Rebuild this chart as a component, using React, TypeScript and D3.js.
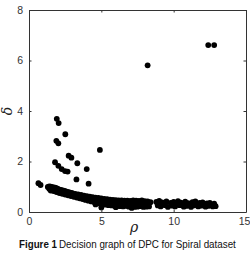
import React, { useEffect, useRef } from 'react'
import * as d3 from 'd3'

// decision graph values: [rho, delta]
const centres: [number, number][] = [
  [8.2, 5.81], [12.39, 6.61], [12.8, 6.61],
]

const scattered: [number, number][] = [
  [1.92, 3.69], [2.05, 3.52], [2.51, 3.08], [1.89, 2.82], [2.03, 2.72],
  [2.74, 2.23], [2.93, 2.15], [3.34, 1.93], [1.8, 1.97], [2.03, 1.83],
  [2.26, 1.7], [2.49, 1.62], [2.67, 1.6], [3.99, 1.7], [3.28, 1.29],
  [4.12, 1.12], [4.9, 2.46], [0.65, 1.14], [0.8, 1.07],
]

const bandTop: [number, number][] = [
  [1.3, 0.99], [1.4, 1.01], [1.5, 1.0], [1.6, 0.98], [1.7, 0.97], [1.8, 0.96],
  [1.9, 0.94], [2.0, 0.91], [2.1, 0.89], [2.2, 0.88], [2.3, 0.86], [2.4, 0.85],
  [2.5, 0.83], [2.6, 0.81], [2.7, 0.79], [2.8, 0.78], [2.9, 0.76], [3.0, 0.75],
  [3.2, 0.72], [3.4, 0.7], [3.6, 0.68], [3.8, 0.65], [4.0, 0.63], [4.2, 0.61],
  [4.4, 0.59], [4.6, 0.57], [4.8, 0.56], [5.0, 0.54], [5.2, 0.52], [5.4, 0.51],
  [5.6, 0.49], [5.8, 0.48], [6.0, 0.47], [6.2, 0.46], [6.4, 0.46], [6.6, 0.45],
  [6.8, 0.45], [7.0, 0.44], [7.2, 0.46], [7.4, 0.45], [7.6, 0.44], [7.8, 0.46],
  [8.0, 0.43], [8.2, 0.42], [8.4, 0.39],
]

const bandMid: [number, number][] = [
  [1.4, 0.92], [1.6, 0.9], [1.8, 0.87], [2.0, 0.83], [2.2, 0.8], [2.4, 0.77],
  [2.6, 0.74], [2.8, 0.71], [3.0, 0.68], [3.2, 0.66], [3.4, 0.63], [3.6, 0.6],
  [3.8, 0.57], [4.0, 0.55], [4.2, 0.52], [4.4, 0.5], [4.6, 0.48], [4.8, 0.46],
  [5.0, 0.44], [5.2, 0.42], [5.4, 0.4], [5.6, 0.39], [5.8, 0.37], [6.0, 0.36],
  [6.2, 0.35], [6.4, 0.34], [6.6, 0.35], [6.8, 0.33], [7.0, 0.34], [7.2, 0.32],
  [7.4, 0.33], [7.6, 0.32], [7.8, 0.31], [8.0, 0.32], [8.2, 0.3],
]

const bandLow: [number, number][] = [
  [1.5, 0.85], [1.7, 0.83], [1.9, 0.79], [2.1, 0.75], [2.3, 0.72], [2.5, 0.69],
  [2.7, 0.66], [2.9, 0.63], [3.1, 0.6], [3.3, 0.57], [3.5, 0.54], [3.7, 0.51],
  [3.9, 0.48], [4.1, 0.45], [4.3, 0.42], [4.5, 0.4], [4.7, 0.37], [4.9, 0.34],
  [5.1, 0.32], [5.3, 0.29], [5.5, 0.27], [5.7, 0.26], [5.9, 0.25], [6.1, 0.24],
  [6.3, 0.23], [6.5, 0.22], [6.7, 0.24], [6.9, 0.21], [7.1, 0.22], [7.3, 0.2],
  [7.5, 0.21], [7.7, 0.23], [7.9, 0.2], [8.1, 0.21], [8.3, 0.22],
  [4.6, 0.3], [5.0, 0.18], [6.0, 0.19], [7.1, 0.16],
]

const tail: [number, number][] = [
  [8.8, 0.4], [9.0, 0.44], [9.2, 0.38], [9.5, 0.42], [9.8, 0.36], [10.0, 0.4],
  [10.3, 0.43], [10.5, 0.37], [10.8, 0.41], [11.0, 0.35], [11.3, 0.39], [11.5, 0.42],
  [11.8, 0.36], [12.0, 0.38], [12.3, 0.34], [12.5, 0.36], [12.8, 0.33],
  [8.9, 0.26], [9.1, 0.22], [9.4, 0.27], [9.6, 0.2], [9.9, 0.25], [10.1, 0.22],
  [10.4, 0.27], [10.7, 0.21], [10.9, 0.24], [11.2, 0.2], [11.4, 0.26], [11.7, 0.22],
  [11.9, 0.25], [12.2, 0.21], [12.4, 0.24], [12.7, 0.22], [12.9, 0.23],
  [9.3, 0.32], [10.2, 0.31], [10.6, 0.3], [11.1, 0.3], [11.6, 0.31], [12.1, 0.3],
]

const xTicks = [0, 5, 10, 15]
const yTicks = [0, 2, 4, 6, 8]

const App = () => {
  const ref = useRef<SVGSVGElement>(null)

  useEffect(() => {
    const svg = d3.select(ref.current)
    svg.selectAll('*').remove()

    const left = 29, right = 246, top = 10, bottom = 212
    const x = d3.scaleLinear().domain([0, 15]).range([left, right])
    const y = d3.scaleLinear().domain([0, 8]).range([bottom, top])

    svg.append('rect').attr('width', 250).attr('height', 253).attr('fill', '#fff')

    // points
    const all = [...bandLow, ...bandMid, ...bandTop, ...tail, ...scattered, ...centres]
    svg.append('g')
      .selectAll('circle')
      .data(all)
      .enter()
      .append('circle')
      .attr('cx', (d) => x(d[0]))
      .attr('cy', (d) => y(d[1]))
      .attr('r', 2.9)
      .attr('fill', '#000')

    // box with inward ticks on all four sides
    const axisColor = '#333'
    const tick = 2.5
    const ax = svg.append('g')

    const xAxis = ax.append('g').attr('transform', `translate(0,${bottom})`)
      .call(d3.axisBottom(x).tickValues(xTicks).tickSizeInner(-tick).tickSizeOuter(0).tickPadding(6))
    ax.append('g').attr('transform', `translate(0,${top})`)
      .call(d3.axisTop(x).tickValues(xTicks).tickSizeInner(-tick).tickSizeOuter(0).tickFormat(() => ''))
    ax.append('g').attr('transform', `translate(${left},0)`)
      .call(d3.axisLeft(y).tickValues(yTicks).tickSizeInner(-tick).tickSizeOuter(0).tickPadding(6))
    ax.append('g').attr('transform', `translate(${right},0)`)
      .call(d3.axisRight(y).tickValues(yTicks).tickSizeInner(-tick).tickSizeOuter(0).tickFormat(() => ''))

    ax.selectAll('.domain').attr('stroke', axisColor)
    ax.selectAll('.tick line').attr('stroke', axisColor)
    ax.selectAll('.tick text').attr('fill', '#333').attr('font-size', 10.5)
      .attr('font-family', 'Liberation Sans, Arial, sans-serif')
    // last label sits against the window edge, nudge it in a little
    xAxis.selectAll<SVGTextElement, number>('.tick text')
      .attr('dx', (d) => (d === 15 ? -2 : 0))

    // axis titles
    svg.append('text')
      .attr('x', 134).attr('y', 232)
      .attr('text-anchor', 'middle')
      .attr('font-family', 'DejaVu Serif, serif')
      .attr('font-style', 'italic')
      .attr('font-size', 14)
      .attr('fill', '#222')
      .text('ρ')
    svg.append('text')
      .attr('transform', `translate(12,${(top + bottom) / 2}) rotate(-90)`)
      .attr('text-anchor', 'middle')
      .attr('font-family', 'DejaVu Serif, serif')
      .attr('font-style', 'italic')
      .attr('font-size', 14)
      .attr('fill', '#222')
      .text('δ')

    // caption, squeezed horizontally to the narrow face of the original
    const capFont = 'Liberation Sans Narrow, Arial Narrow, Liberation Sans, sans-serif'
    const caption = (str: string, x0: number, width: number, bold: boolean) => {
      const t = svg.append('text')
        .attr('font-family', capFont)
        .attr('font-size', 11)
        .attr('font-weight', bold ? 'bold' : 'normal')
        .attr('fill', '#111')
        .text(str)
      const w = (t.node() as SVGTextElement).getComputedTextLength() || width
      t.attr('transform', `translate(${x0},248) scale(${width / w},1)`)
    }
    caption('Figure 1', 19, 38, true)
    caption('Decision graph of DPC for Spiral dataset', 59, 177, false)
  }, [])

  return (
    <svg ref={ref} width={250} height={253}
      style={{ position: 'absolute', left: 0, top: 0, display: 'block' }} />
  )
}

export default App
